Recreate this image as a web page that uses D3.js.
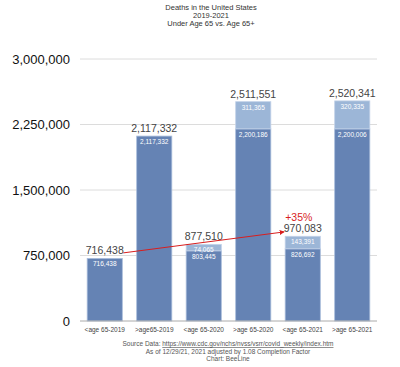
<!DOCTYPE html>
<html>
<head>
<meta charset="utf-8">
<script src="https://cdn.jsdelivr.net/npm/d3@7"></script>
<style>
  body { margin: 0; background: #fff; }
  svg { font-family: "Liberation Sans", Arial, Helvetica, sans-serif; }
</style>
</head>
<body>
<svg id="chart" width="400" height="367"></svg>
<script>
// categories and the two stacked pieces of each bar
var categories = ["<age 65-2019", ">age65-2019", "<age 65-2020", ">age 65-2020", "<age 65-2021", ">age 65-2021"];
var baseDeaths = [716438, 2117332, 803445, 2200186, 826692, 2200006];
var extraDeaths = [0, 0, 74065, 311365, 143391, 320335];
var totalDeaths = [716438, 2117332, 877510, 2511551, 970083, 2520341];
var yTicks = [0, 750000, 1500000, 2250000, 3000000];

var titleLines = ["Deaths in the United States", "2019-2021", "Under Age 65 vs. Age 65+"];
var footLines = ["As of 12/29/21, 2021 adjusted by 1.08 Completion Factor", "Chart: BeeLine"];

// arrow from under-65 2019 to under-65 2021
var arrowFrom = {cat: "<age 65-2019", value: 780000};
var arrowTo = {cat: "<age 65-2021", value: 1020000};
var arrowText = "+35%";

var svg = d3.select("#chart");
var margin = {top: 59, right: 23, bottom: 46, left: 80},
    width = 400 - margin.left - margin.right,
    height = 367 - margin.top - margin.bottom;

var x = d3.scaleBand()
    .domain(categories)
    .range([0, width])
    .paddingInner(0.29)
    .paddingOuter(0.145);

var y = d3.scaleLinear()
    .domain([0, 3000000])
    .range([height, 0]);

var fmt = d3.format(",");

// title
svg.append("g").selectAll("text")
    .data(titleLines)
    .enter().append("text")
    .attr("x", 211)
    .attr("y", function(d, i) { return 10 + i * 8.2; })
    .attr("text-anchor", "middle")
    .style("font-size", "7.5px")
    .style("fill", "#333")
    .text(function(d) { return d; });

var g = svg.append("g")
    .attr("transform", "translate(" + margin.left + "," + margin.top + ")");

// gridlines
g.append("g").selectAll("line")
    .data(yTicks.slice(1))
    .enter().append("line")
    .attr("x1", 0)
    .attr("x2", width)
    .attr("y1", function(d) { return y(d); })
    .attr("y2", function(d) { return y(d); })
    .style("stroke", "#dcdcdc")
    .style("stroke-width", 1);

// y axis labels
var yAxis = d3.axisLeft(y).tickValues(yTicks).tickFormat(fmt).tickSize(0).tickPadding(10);
var yAxisG = g.append("g").call(yAxis);
yAxisG.select(".domain").remove();
yAxisG.selectAll("text")
    .style("font-size", "13px")
    .style("fill", "#111")
    .style("font-family", "Liberation Sans, Arial, sans-serif");

// bars
var barData = categories.map(function(c, i) {
    return {cat: c, base: baseDeaths[i], extra: extraDeaths[i], total: totalDeaths[i]};
});

var bars = g.append("g").selectAll("g")
    .data(barData)
    .enter().append("g");

bars.append("rect")
    .attr("x", function(d) { return x(d.cat); })
    .attr("width", x.bandwidth())
    .attr("y", function(d) { return y(d.base); })
    .attr("height", function(d) { return height - y(d.base); })
    .style("fill", "#6583b4")
    .style("stroke", "#a9bddb")
    .style("stroke-width", 0.8);

bars.filter(function(d) { return d.extra > 0; })
    .append("rect")
    .attr("x", function(d) { return x(d.cat); })
    .attr("width", x.bandwidth())
    .attr("y", function(d) { return y(d.base + d.extra); })
    .attr("height", function(d) { return y(d.base) - y(d.base + d.extra); })
    .style("fill", "#9cb6d7")
    .style("stroke", "#c3d2e8")
    .style("stroke-width", 0.8);

// labels inside the bars
bars.append("text")
    .attr("x", function(d) { return x(d.cat) + x.bandwidth() / 2; })
    .attr("y", function(d) { return y(d.base) + 8; })
    .attr("text-anchor", "middle")
    .style("font-size", "6.5px")
    .style("fill", "#fff")
    .text(function(d) { return fmt(d.base); });

bars.filter(function(d) { return d.extra > 0; })
    .append("text")
    .attr("x", function(d) { return x(d.cat) + x.bandwidth() / 2; })
    .attr("y", function(d) { return y(d.base + d.extra) + 8; })
    .attr("text-anchor", "middle")
    .style("font-size", "6.5px")
    .style("fill", "#fff")
    .text(function(d) { return fmt(d.extra); });

// baseline
g.append("line")
    .attr("x1", 0).attr("x2", width)
    .attr("y1", height).attr("y2", height)
    .style("stroke", "#aaa")
    .style("stroke-width", 1);

// x axis labels
var xAxis = d3.axisBottom(x).tickSize(0).tickPadding(6);
var xAxisG = g.append("g").attr("transform", "translate(0," + height + ")").call(xAxis);
xAxisG.select(".domain").remove();
xAxisG.selectAll("text")
    .style("font-size", "6.5px")
    .style("fill", "#444")
    .style("font-family", "Liberation Sans, Arial, sans-serif");

// arrow
svg.append("defs").append("marker")
    .attr("id", "head")
    .attr("viewBox", "0 0 10 10")
    .attr("refX", 9).attr("refY", 5)
    .attr("markerWidth", 5).attr("markerHeight", 5)
    .attr("orient", "auto")
    .append("path")
    .attr("d", "M0,0 L10,5 L0,10 z")
    .style("fill", "#d81e1e");

g.append("line")
    .attr("x1", x(arrowFrom.cat) + x.bandwidth() + 1)
    .attr("y1", y(arrowFrom.value))
    .attr("x2", x(arrowTo.cat) - 1)
    .attr("y2", y(arrowTo.value))
    .style("stroke", "#d81e1e")
    .style("stroke-width", 1)
    .attr("marker-end", "url(#head)");

// total labels above bars
bars.append("text")
    .attr("x", function(d) { return x(d.cat) + x.bandwidth() / 2; })
    .attr("y", function(d) { return y(d.total) - 4; })
    .attr("text-anchor", "middle")
    .style("font-size", "10.5px")
    .style("fill", "#444")
    .text(function(d) { return fmt(d.total); });

g.append("text")
    .attr("x", x(arrowTo.cat) + x.bandwidth() / 2 - 4)
    .attr("y", y(totalDeaths[4]) - 15)
    .attr("text-anchor", "middle")
    .style("font-size", "10.5px")
    .style("fill", "#d81e1e")
    .text(arrowText);

// footer
var foot = svg.append("g");
var src = foot.append("text")
    .attr("x", 228)
    .attr("y", 346)
    .attr("text-anchor", "middle")
    .style("font-size", "6.5px")
    .style("fill", "#555");
src.append("tspan").text("Source Data: ");
src.append("tspan").style("text-decoration", "underline")
    .text("https://www.cdc.gov/nchs/nvss/vsrr/covid_weekly/index.htm");

foot.selectAll(".fl")
    .data(footLines)
    .enter().append("text")
    .attr("class", "fl")
    .attr("x", 228)
    .attr("y", function(d, i) { return 353.5 + i * 7; })
    .attr("text-anchor", "middle")
    .style("font-size", "6.5px")
    .style("fill", "#555")
    .text(function(d) { return d; });
</script>
</body>
</html>
